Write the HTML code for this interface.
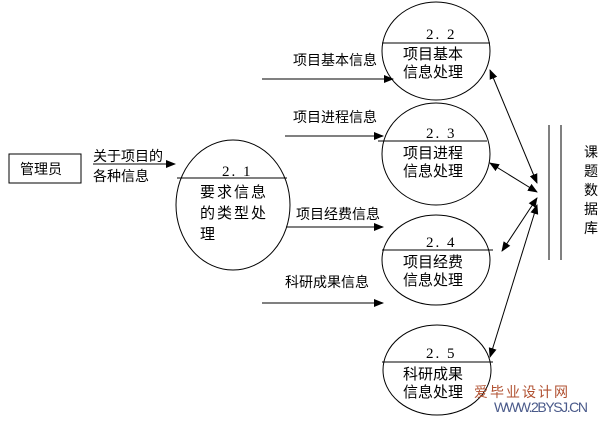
<!DOCTYPE html>
<html><head><meta charset="utf-8"><style>
body{margin:0;background:#fff;width:600px;height:426px;overflow:hidden}
text{font-family:"Liberation Sans","Noto Sans CJK SC",sans-serif;font-size:14px;fill:#000}
.n{font-family:"Liberation Serif","Noto Serif CJK SC",serif;font-size:15px;letter-spacing:2px}
.b{font-size:15px}
</style></head><body>
<svg width="600" height="426" xmlns="http://www.w3.org/2000/svg">
<defs><marker id="a" markerWidth="10" markerHeight="8" refX="9" refY="4" orient="auto-start-reverse" markerUnits="userSpaceOnUse"><path d="M0,0 L10,4 L0,8 Z" fill="#000"/></marker></defs>
<g fill="none" stroke="#000" stroke-width="1">
<rect x="9" y="154" width="72" height="29"/>
<ellipse cx="233" cy="205" rx="57" ry="65"/>
<line x1="177" y1="178" x2="287" y2="178"/>
<ellipse cx="436" cy="51" rx="54" ry="49"/>
<line x1="382" y1="43" x2="490" y2="43"/>
<ellipse cx="436" cy="154" rx="54" ry="51"/>
<line x1="378" y1="141" x2="487" y2="141"/>
<ellipse cx="436" cy="260" rx="54" ry="45"/>
<line x1="382" y1="250" x2="493" y2="250"/>
<ellipse cx="437" cy="370" rx="54" ry="45"/>
<line x1="382" y1="362" x2="493" y2="362"/>
<line x1="549" y1="125" x2="549" y2="260"/>
<line x1="561" y1="125" x2="561" y2="260"/>
<line x1="93" y1="164" x2="175" y2="164" marker-end="url(#a)"/>
<line x1="262" y1="79" x2="393" y2="79" marker-end="url(#a)"/>
<line x1="285" y1="136" x2="383" y2="136" marker-end="url(#a)"/>
<line x1="286" y1="227" x2="383" y2="227" marker-end="url(#a)"/>
<line x1="262" y1="303" x2="383" y2="303" marker-end="url(#a)"/>
<line x1="490" y1="70" x2="537" y2="183" marker-start="url(#a)" marker-end="url(#a)"/>
<line x1="490" y1="163" x2="537" y2="192" marker-start="url(#a)" marker-end="url(#a)"/>
<line x1="502" y1="251" x2="537" y2="198" marker-start="url(#a)" marker-end="url(#a)"/>
<line x1="490" y1="357" x2="537" y2="205" marker-start="url(#a)" marker-end="url(#a)"/>
</g>
<text x="20" y="174">管理员</text>
<text x="93" y="161" font-size="15">关于项目的</text>
<text x="93" y="181" font-size="15">各种信息</text>
<text x="222" y="176" class="n">2. 1</text>
<text x="200" y="197" class="b" letter-spacing="2">要求信息</text>
<text x="200" y="218" class="b" letter-spacing="2">的类型处</text>
<text x="200" y="239" class="b">理</text>
<text x="293" y="65">项目基本信息</text>
<text x="293" y="122">项目进程信息</text>
<text x="296" y="219">项目经费信息</text>
<text x="285" y="287">科研成果信息</text>
<text x="426" y="39" class="n">2. 2</text>
<text x="403" y="59" class="b">项目基本</text>
<text x="403" y="77" class="b">信息处理</text>
<text x="426" y="138" class="n">2. 3</text>
<text x="403" y="158" class="b">项目进程</text>
<text x="403" y="176" class="b">信息处理</text>
<text x="426" y="247" class="n">2. 4</text>
<text x="403" y="267" class="b">项目经费</text>
<text x="403" y="285" class="b">信息处理</text>
<text x="426" y="358" class="n">2. 5</text>
<text x="403" y="379" class="b">科研成果</text>
<text x="403" y="397" class="b">信息处理</text>
<text x="584" y="157">课</text>
<text x="584" y="176">题</text>
<text x="584" y="195">数</text>
<text x="584" y="214">据</text>
<text x="584" y="233">库</text>
<text x="474" y="397" font-size="19" style="fill:#b05030" letter-spacing="2">爱毕业设计网</text>
<text x="494" y="412" font-size="10" style="fill:#4a5a8a" textLength="94">WWW.2BYSJ.CN</text>
</svg>
</body></html>
